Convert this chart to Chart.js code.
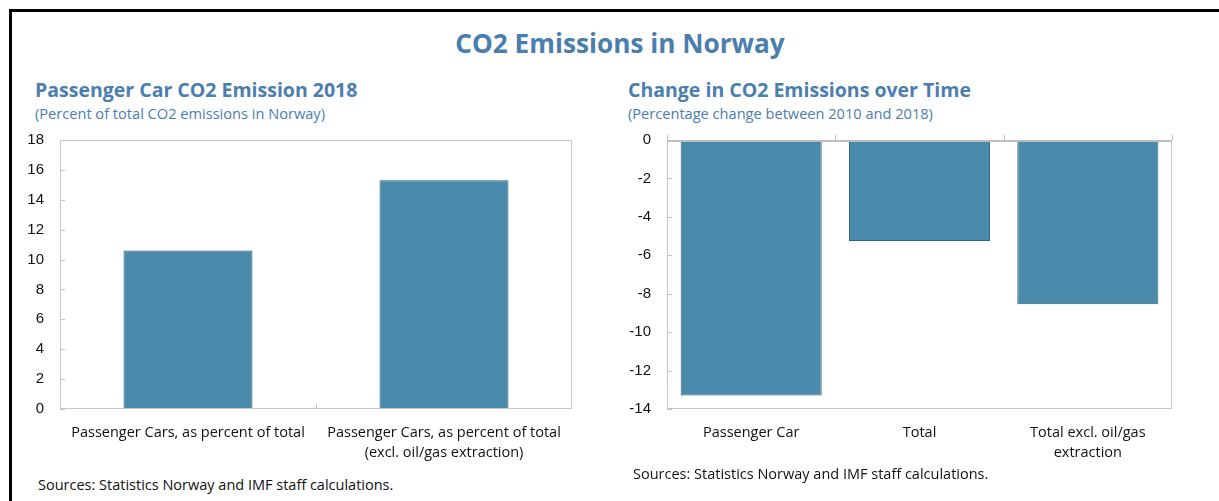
<!DOCTYPE html>
<html>
<head>
<meta charset="utf-8">
<script src="https://cdn.jsdelivr.net/npm/chart.js@4.4.1/dist/chart.umd.min.js"></script>
<style>
  body { margin: 0; background: #fff; width: 1219px; height: 501px; overflow: hidden; position: relative; font-family: "Open Sans", sans-serif; }
  .frame { position: absolute; left: 9px; top: 9px; width: 1230px; height: 520px; border-top: 3px solid #000; border-left: 3px solid #000; }
  .txt { position: absolute; white-space: nowrap; line-height: 1; }
  .main { left: 0; width: 1240px; text-align: center; top: 30px; font-size: 26.2px; font-weight: 700; color: #4a7eae; }
  .sub { font-size: 19.5px; font-weight: 700; color: #4a7eae; }
  .par { font-size: 14.6px; color: #4a7eae; }
  .src { font-size: 14.5px; color: #111; }
  canvas { position: absolute; }
</style>
</head>
<body>
<div class="frame"></div>
<div class="txt main">CO2 Emissions in Norway</div>
<div class="txt sub" style="left:35px; top:80px;">Passenger Car CO2 Emission 2018</div>
<div class="txt par" style="left:35px; top:106px;">(Percent of total CO2 emissions in Norway)</div>
<div class="txt sub" style="left:628px; top:80px;">Change in CO2 Emissions over Time</div>
<div class="txt par" style="left:628px; top:106px;">(Percentage change between 2010 and 2018)</div>
<canvas id="left" width="600" height="350" style="left:0; top:115px;"></canvas>
<canvas id="right" width="620" height="350" style="left:599px; top:115px;"></canvas>
<div class="txt src" style="left:38px; top:478px;">Sources: Statistics Norway and IMF staff calculations.</div>
<div class="txt src" style="left:633px; top:467px;">Sources: Statistics Norway and IMF staff calculations.</div>
<script>
const shareLabels = [
  'Passenger Cars, as percent of total',
  ['Passenger Cars, as percent of total', '(excl. oil/gas extraction)']
];
const shareValues = [10.6, 15.3];

const changeLabels = ['Passenger Car', 'Total', ['Total excl. oil/gas', 'extraction']];
const changeValues = [-13.3, -5.25, -8.55];

const barFill = '#4a8bad';
const barEdge = '#335f78';
const frameGrey = '#c4c4c4';

// frame round the plot, plus small inward/outward tick marks
function framePlugin(topTicksUp) {
  return {
    id: 'frame',
    afterDraw(chart) {
      const { ctx, chartArea: a, scales } = chart;
      const x = scales.x, y = scales.y;
      ctx.save();
      ctx.strokeStyle = frameGrey;
      ctx.lineWidth = 1;
      ctx.strokeRect(a.left + 0.5, a.top + 0.5, a.right - a.left - 1, a.bottom - a.top - 1);
      // y ticks pointing into the plot
      y.ticks.forEach((t, i) => {
        const py = Math.round(y.getPixelForTick(i)) + 0.5;
        ctx.beginPath(); ctx.moveTo(a.left, py); ctx.lineTo(a.left + 5, py); ctx.stroke();
      });
      // category boundaries
      const bounds = [];
      for (let i = 0; i < x.ticks.length - 1; i++) {
        bounds.push((x.getPixelForValue(i) + x.getPixelForValue(i + 1)) / 2);
      }
      if (topTicksUp) {
        bounds.unshift(a.left); bounds.push(a.right);
        ctx.lineWidth = 2;
        ctx.strokeStyle = '#bdbdbd';
        ctx.beginPath(); ctx.moveTo(a.left, a.top + 1); ctx.lineTo(a.right, a.top + 1); ctx.stroke();
        ctx.lineWidth = 1;
        bounds.forEach(bx => {
          const px = Math.round(bx) + 0.5;
          ctx.beginPath(); ctx.moveTo(px, a.top); ctx.lineTo(px, a.top - 5); ctx.stroke();
        });
      } else {
        bounds.forEach(bx => {
          const px = Math.round(bx) + 0.5;
          ctx.beginPath(); ctx.moveTo(px, a.bottom); ctx.lineTo(px, a.bottom - 5); ctx.stroke();
        });
      }
      ctx.restore();
    }
  };
}

function makeChart(id, labels, values, yMin, yMax, barPct, pad, topUp) {
  return new Chart(document.getElementById(id), {
    type: 'bar',
    data: {
      labels: labels,
      datasets: [{
        data: values,
        backgroundColor: barFill,
        borderColor: barEdge,
        borderWidth: 1,
        categoryPercentage: 1,
        barPercentage: barPct
      }]
    },
    options: {
      responsive: false,
      devicePixelRatio: 1,
      animation: false,
      layout: { padding: pad },
      plugins: { legend: { display: false }, tooltip: { enabled: false } },
      scales: {
        x: {
          grid: { display: false, drawTicks: false },
          border: { display: false },
          ticks: {
            color: '#111', padding: 14, maxRotation: 0, autoSkip: false,
            font: { family: 'Open Sans', size: 14.5, lineHeight: 1.38 }
          },
          afterFit(s) { s.height = 56; }
        },
        y: {
          min: yMin, max: yMax,
          grid: { display: false, drawTicks: false },
          border: { display: false },
          ticks: {
            stepSize: 2, color: '#111', padding: 16,
            font: { family: 'Liberation Sans', size: 15 }
          },
          afterFit(s) { s.width = pad.yw; }
        }
      }
    },
    plugins: [framePlugin(topUp)]
  });
}

makeChart('left', shareLabels, shareValues, 0, 18, 0.504,
  { left: 0, right: 28, top: 5, bottom: 0, yw: 60 }, false);
makeChart('right', changeLabels, changeValues, -14, 0, 0.838,
  { left: 0, right: 47, top: 5, bottom: 0, yw: 68 }, true);
</script>
</body>
</html>
